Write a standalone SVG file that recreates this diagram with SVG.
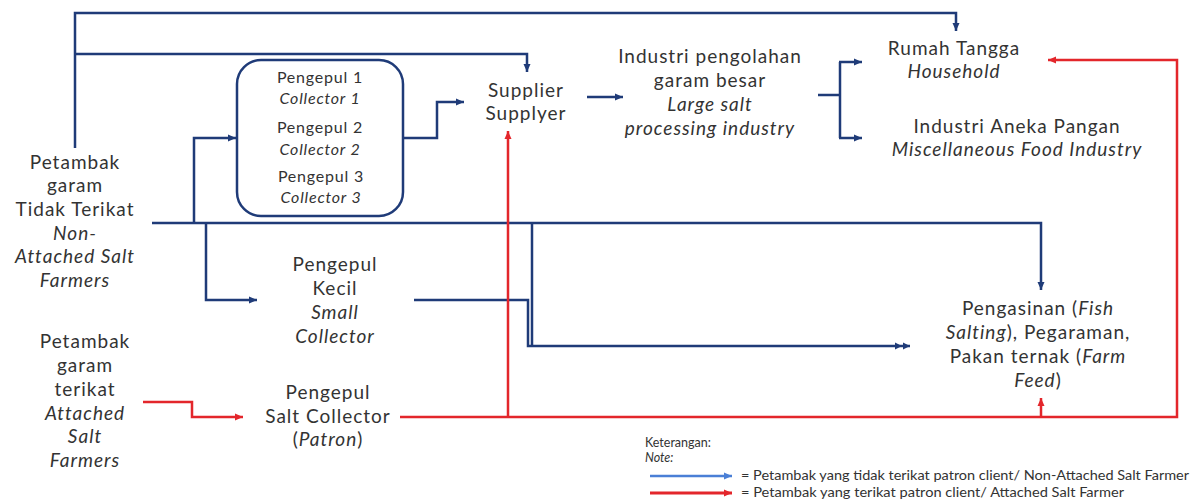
<svg xmlns="http://www.w3.org/2000/svg" width="1195" height="499" viewBox="0 0 1195 499">
<style>
text{font-family:Lato,"Liberation Sans",sans-serif;fill:#333;text-anchor:middle;}
.t{font-size:19px;letter-spacing:1px;}
.s{font-size:16px;letter-spacing:0.8px;}
.i{font-style:italic;}
.lg{font-size:12.5px;text-anchor:start;}
.lk{font-size:12.5px;text-anchor:start;}
.b{fill:none;stroke:#1f3b78;stroke-width:2.5;}
.r{fill:none;stroke:#e3262b;stroke-width:2.5;}
</style>
<defs>
<marker id="ab" markerUnits="userSpaceOnUse" markerWidth="9" markerHeight="8" refX="8" refY="4" orient="auto"><path d="M0,0.5 L8,4 L0,7.5z" fill="#1f3b78"/></marker>
<marker id="ab2" markerUnits="userSpaceOnUse" markerWidth="16" markerHeight="8" refX="15" refY="4" orient="auto"><path d="M0,0.5 L7,4 L0,7.5z M8,0.5 L15,4 L8,7.5z" fill="#1f3b78"/></marker>
<marker id="ar" markerUnits="userSpaceOnUse" markerWidth="9" markerHeight="8" refX="8" refY="4" orient="auto"><path d="M0,0.5 L8,4 L0,7.5z" fill="#e3262b"/></marker>
<marker id="alb" markerUnits="userSpaceOnUse" markerWidth="9" markerHeight="8" refX="8" refY="4" orient="auto"><path d="M0,0.5 L8,4 L0,7.5z" fill="#4a7fd6"/></marker>
</defs>

<g id="connectors">
<path class="b" d="M75,148 V13 H956 V31" marker-end="url(#ab)"/>
<path class="b" d="M75,54 H527 V72" marker-end="url(#ab)"/>
<path class="b" d="M152,223 H1041 V290" marker-end="url(#ab)"/>
<path class="b" d="M194,223 V138 H236" marker-end="url(#ab)"/>
<path class="b" d="M206,223 V300 H257" marker-end="url(#ab)"/>
<path class="b" d="M403,138 H437 V102 H464" marker-end="url(#ab)"/>
<path class="b" d="M532,223 V346"/>
<path class="b" d="M414,300 H528 V346 H910" marker-end="url(#ab2)"/>
<path class="b" d="M587,97 H623" marker-end="url(#ab)"/>
<path class="b" d="M818,95 H840"/>
<path class="b" d="M840,62 V138"/>
<path class="b" d="M839,62 H862" marker-end="url(#ab)"/>
<path class="b" d="M839,138 H862" marker-end="url(#ab)"/>
<path class="r" d="M400,417 H1177 V60 H1048" marker-end="url(#ar)"/>
<path class="r" d="M508,417 V131" marker-end="url(#ar)"/>
<path class="r" d="M1041,417 V398" marker-end="url(#ar)"/>
<path class="r" d="M143,402 H192 V417 H243" marker-end="url(#ar)"/>
</g>

<g id="non-attached-farmers">
<text class="t" x="75" y="169">Petambak</text>
<text class="t" x="75" y="192">garam</text>
<text class="t" x="75" y="216">Tidak Terikat</text>
<text class="t i" x="75" y="240">Non-</text>
<text class="t i" x="75" y="263">Attached Salt</text>
<text class="t i" x="75" y="287">Farmers</text>
</g>

<g id="collectors">
<rect x="237" y="60" width="166" height="156" rx="24" ry="24" fill="#fff" stroke="#1f3b78" stroke-width="2.5"/>
<text class="s" x="320" y="83">Pengepul 1</text>
<text class="s i" x="320" y="104">Collector 1</text>
<text class="s" x="320" y="133">Pengepul 2</text>
<text class="s i" x="320" y="155">Collector 2</text>
<text class="s" x="321" y="182">Pengepul 3</text>
<text class="s i" x="321" y="203">Collector 3</text>
</g>

<g id="supplier">
<text class="t" x="526" y="97">Supplier</text>
<text class="t" x="526" y="120">Supplyer</text>
</g>

<g id="large-industry">
<text class="t" x="710" y="63">Industri pengolahan</text>
<text class="t" x="710" y="87">garam besar</text>
<text class="t i" x="710" y="111">Large salt</text>
<text class="t i" x="710" y="135">processing  industry</text>
</g>

<g id="household">
<text class="t" x="954" y="55">Rumah Tangga</text>
<text class="t i" x="954" y="78">Household</text>
</g>

<g id="food-industry">
<text class="t" x="1017" y="133">Industri Aneka Pangan</text>
<text class="t i" x="1017" y="156">Miscellaneous Food Industry</text>
</g>

<g id="small-collector">
<text class="t" x="335" y="271">Pengepul</text>
<text class="t" x="335" y="295">Kecil</text>
<text class="t i" x="335" y="319">Small</text>
<text class="t i" x="335" y="343">Collector</text>
</g>

<g id="fish-salting">
<text class="t" x="1038" y="315">Pengasinan (<tspan font-style="italic">Fish</tspan></text>
<text class="t" x="1038" y="339"><tspan font-style="italic">Salting</tspan>), Pegaraman,</text>
<text class="t" x="1038" y="363">Pakan ternak (<tspan font-style="italic">Farm</tspan></text>
<text class="t" x="1038" y="387"><tspan font-style="italic">Feed</tspan>)</text>
</g>

<g id="attached-farmers">
<text class="t" x="85" y="348">Petambak</text>
<text class="t" x="85" y="372">garam</text>
<text class="t" x="85" y="396">terikat</text>
<text class="t i" x="85" y="420">Attached</text>
<text class="t i" x="85" y="443">Salt</text>
<text class="t i" x="85" y="467">Farmers</text>
</g>

<g id="patron-collector">
<text class="t" x="328" y="399">Pengepul</text>
<text class="t" x="328" y="423">Salt Collector</text>
<text class="t" x="328" y="446">(<tspan font-style="italic">Patron</tspan>)</text>
</g>

<g id="legend">
<text class="lk" x="645" y="447">Keterangan:</text>
<text class="lk i" x="645" y="462">Note:</text>
<path d="M650,476 H732" fill="none" stroke="#4a7fd6" stroke-width="2.5" marker-end="url(#alb)"/>
<text class="lg" x="741" y="480" textLength="448" lengthAdjust="spacingAndGlyphs">= Petambak yang tidak terikat patron client/ Non-Attached Salt Farmer</text>
<path d="M650,493 H732" fill="none" stroke="#e3262b" stroke-width="3" marker-end="url(#ar)"/>
<text class="lg" x="741" y="497" textLength="383" lengthAdjust="spacingAndGlyphs">= Petambak yang terikat patron client/ Attached Salt Farmer</text>
</g>
</svg>
